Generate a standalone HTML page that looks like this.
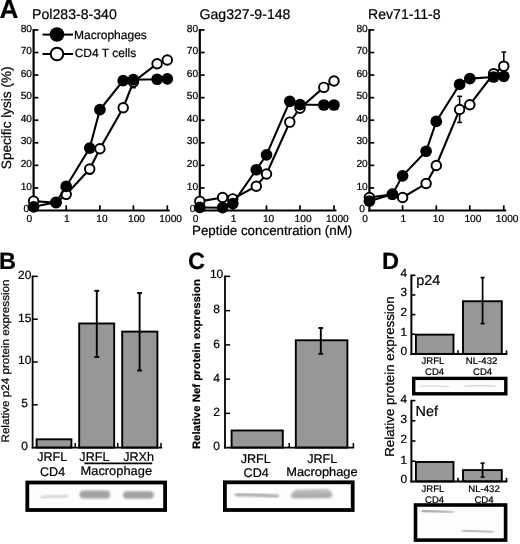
<!DOCTYPE html>
<html lang="en">
<head>
<meta charset="utf-8">
<title>Figure</title>
<style>
html,body{margin:0;padding:0;background:#fff;}
body{width:520px;height:544px;overflow:hidden;}
svg{display:block;font-family:'Liberation Sans', sans-serif;fill:#000;text-rendering:geometricPrecision;}
text{stroke:#000;stroke-width:0.22px;stroke-linejoin:round;}
</style>
</head>
<body>
<svg width="520" height="544" viewBox="0 0 520 544">
<defs>
<filter id="soft" x="0" y="0" width="100%" height="100%" filterUnits="userSpaceOnUse" color-interpolation-filters="sRGB"><feGaussianBlur stdDeviation="0.4"/></filter>
<filter id="b1" x="-20%" y="-100%" width="140%" height="300%"><feGaussianBlur stdDeviation="1.0 0.8"/></filter>
<filter id="b2" x="-20%" y="-300%" width="140%" height="700%"><feGaussianBlur stdDeviation="0.8 0.5"/></filter>
<linearGradient id="g2" gradientUnits="userSpaceOnUse" x1="422" y1="0" x2="454" y2="0"><stop offset="0" stop-color="#a8a8a8"/><stop offset="0.6" stop-color="#b4b4b4"/><stop offset="1" stop-color="#d0d0d0"/></linearGradient>
<linearGradient id="g1" x1="0" y1="0" x2="0" y2="1"><stop offset="0" stop-color="#c6c6c6"/><stop offset="1" stop-color="#a0a0a0"/></linearGradient>
</defs>
<rect x="0" y="0" width="520" height="544" fill="#fff"/>
<g filter="url(#soft)">
<rect x="-5" y="-5" width="530" height="554" fill="#fff"/>
<line x1="33.6" y1="29.040000000000003" x2="33.6" y2="211.6" stroke="#000" stroke-width="2.2" stroke-linecap="butt"/>
<line x1="32.5" y1="210.5" x2="169.70000000000002" y2="210.5" stroke="#000" stroke-width="2.2" stroke-linecap="butt"/>
<text x="26.3" y="211.9" font-size="10.2" text-anchor="middle" font-weight="normal" >0</text>
<line x1="33.6" y1="187.93" x2="38.4" y2="187.93" stroke="#000" stroke-width="1.7" stroke-linecap="butt"/>
<text x="26.3" y="189.63" font-size="10.2" text-anchor="middle" font-weight="normal" >10</text>
<line x1="33.6" y1="165.36" x2="38.4" y2="165.36" stroke="#000" stroke-width="1.7" stroke-linecap="butt"/>
<text x="26.3" y="167.06" font-size="10.2" text-anchor="middle" font-weight="normal" >20</text>
<line x1="33.6" y1="142.79" x2="38.4" y2="142.79" stroke="#000" stroke-width="1.7" stroke-linecap="butt"/>
<text x="26.3" y="144.48999999999998" font-size="10.2" text-anchor="middle" font-weight="normal" >30</text>
<line x1="33.6" y1="120.22" x2="38.4" y2="120.22" stroke="#000" stroke-width="1.7" stroke-linecap="butt"/>
<text x="26.3" y="121.92" font-size="10.2" text-anchor="middle" font-weight="normal" >40</text>
<line x1="33.6" y1="97.65" x2="38.4" y2="97.65" stroke="#000" stroke-width="1.7" stroke-linecap="butt"/>
<text x="26.3" y="99.35000000000001" font-size="10.2" text-anchor="middle" font-weight="normal" >50</text>
<line x1="33.6" y1="75.08" x2="38.4" y2="75.08" stroke="#000" stroke-width="1.7" stroke-linecap="butt"/>
<text x="26.3" y="76.78" font-size="10.2" text-anchor="middle" font-weight="normal" >60</text>
<line x1="33.6" y1="52.51" x2="38.4" y2="52.51" stroke="#000" stroke-width="1.7" stroke-linecap="butt"/>
<text x="26.3" y="54.21" font-size="10.2" text-anchor="middle" font-weight="normal" >70</text>
<line x1="33.6" y1="29.94" x2="38.4" y2="29.94" stroke="#000" stroke-width="1.7" stroke-linecap="butt"/>
<text x="26.3" y="31.64" font-size="10.2" text-anchor="middle" font-weight="normal" >80</text>
<line x1="66.2" y1="210.5" x2="66.2" y2="205.3" stroke="#000" stroke-width="1.7" stroke-linecap="butt"/>
<line x1="99.9" y1="210.5" x2="99.9" y2="205.3" stroke="#000" stroke-width="1.7" stroke-linecap="butt"/>
<line x1="133.4" y1="210.5" x2="133.4" y2="205.3" stroke="#000" stroke-width="1.7" stroke-linecap="butt"/>
<line x1="167.3" y1="210.5" x2="167.3" y2="205.3" stroke="#000" stroke-width="1.7" stroke-linecap="butt"/>
<text x="29.400000000000002" y="221.5" font-size="10.2" text-anchor="middle" font-weight="normal" >0</text>
<text x="66.9" y="221.5" font-size="10.2" text-anchor="middle" font-weight="normal" >1</text>
<text x="102.0" y="221.5" font-size="10.2" text-anchor="middle" font-weight="normal" >10</text>
<text x="136.5" y="221.5" font-size="10.2" text-anchor="middle" font-weight="normal" >100</text>
<text x="170.70000000000002" y="221.5" font-size="10.2" text-anchor="middle" font-weight="normal" >1000</text>
<text x="32.1" y="18.8" font-size="14.1" text-anchor="start" font-weight="normal" >Pol283-8-340</text>
<line x1="89.7" y1="173.94" x2="89.7" y2="169.42" stroke="#000" stroke-width="1.6" stroke-linecap="butt"/>
<line x1="87.3" y1="173.94" x2="92.10000000000001" y2="173.94" stroke="#000" stroke-width="1.5" stroke-linecap="butt"/>
<line x1="87.3" y1="169.42" x2="92.10000000000001" y2="169.42" stroke="#000" stroke-width="1.5" stroke-linecap="butt"/>
<line x1="133.4" y1="87.72" x2="133.4" y2="81.85" stroke="#000" stroke-width="1.6" stroke-linecap="butt"/>
<line x1="131.0" y1="87.72" x2="135.8" y2="87.72" stroke="#000" stroke-width="1.5" stroke-linecap="butt"/>
<line x1="131.0" y1="81.85" x2="135.8" y2="81.85" stroke="#000" stroke-width="1.5" stroke-linecap="butt"/>
<polyline fill="none" stroke="#000" stroke-width="2.1" points="33.60,201.13 56.00,202.71 66.20,194.36 89.70,169.08 99.90,148.77 123.20,107.69 133.40,81.96 157.10,63.68 167.30,60.07"/>
<circle cx="33.60" cy="201.13" r="4.75" fill="#fff" stroke="#000" stroke-width="1.95"/>
<circle cx="56.00" cy="202.71" r="4.75" fill="#fff" stroke="#000" stroke-width="1.95"/>
<circle cx="66.20" cy="194.36" r="4.75" fill="#fff" stroke="#000" stroke-width="1.95"/>
<circle cx="89.70" cy="169.08" r="4.75" fill="#fff" stroke="#000" stroke-width="1.95"/>
<circle cx="99.90" cy="148.77" r="4.75" fill="#fff" stroke="#000" stroke-width="1.95"/>
<circle cx="123.20" cy="107.69" r="4.75" fill="#fff" stroke="#000" stroke-width="1.95"/>
<circle cx="133.40" cy="81.96" r="4.75" fill="#fff" stroke="#000" stroke-width="1.95"/>
<circle cx="157.10" cy="63.68" r="4.75" fill="#fff" stroke="#000" stroke-width="1.95"/>
<circle cx="167.30" cy="60.07" r="4.75" fill="#fff" stroke="#000" stroke-width="1.95"/>
<polyline fill="none" stroke="#000" stroke-width="2.1" points="33.60,206.78 56.00,202.26 66.20,186.46 89.70,148.09 99.90,109.72 123.20,80.61 133.40,79.71 157.10,79.26 167.30,78.80"/>
<circle cx="33.60" cy="206.78" r="5.85" fill="#000"/>
<circle cx="56.00" cy="202.26" r="5.85" fill="#000"/>
<circle cx="66.20" cy="186.46" r="5.85" fill="#000"/>
<circle cx="89.70" cy="148.09" r="5.85" fill="#000"/>
<circle cx="99.90" cy="109.72" r="5.85" fill="#000"/>
<circle cx="123.20" cy="80.61" r="5.85" fill="#000"/>
<circle cx="133.40" cy="79.71" r="5.85" fill="#000"/>
<circle cx="157.10" cy="79.26" r="5.85" fill="#000"/>
<circle cx="167.30" cy="78.80" r="5.85" fill="#000"/>
<line x1="199.8" y1="29.040000000000003" x2="199.8" y2="211.6" stroke="#000" stroke-width="2.2" stroke-linecap="butt"/>
<line x1="198.70000000000002" y1="210.5" x2="336.4" y2="210.5" stroke="#000" stroke-width="2.2" stroke-linecap="butt"/>
<text x="192.5" y="211.9" font-size="10.2" text-anchor="middle" font-weight="normal" >0</text>
<line x1="199.8" y1="187.93" x2="204.60000000000002" y2="187.93" stroke="#000" stroke-width="1.7" stroke-linecap="butt"/>
<text x="192.5" y="189.63" font-size="10.2" text-anchor="middle" font-weight="normal" >10</text>
<line x1="199.8" y1="165.36" x2="204.60000000000002" y2="165.36" stroke="#000" stroke-width="1.7" stroke-linecap="butt"/>
<text x="192.5" y="167.06" font-size="10.2" text-anchor="middle" font-weight="normal" >20</text>
<line x1="199.8" y1="142.79" x2="204.60000000000002" y2="142.79" stroke="#000" stroke-width="1.7" stroke-linecap="butt"/>
<text x="192.5" y="144.48999999999998" font-size="10.2" text-anchor="middle" font-weight="normal" >30</text>
<line x1="199.8" y1="120.22" x2="204.60000000000002" y2="120.22" stroke="#000" stroke-width="1.7" stroke-linecap="butt"/>
<text x="192.5" y="121.92" font-size="10.2" text-anchor="middle" font-weight="normal" >40</text>
<line x1="199.8" y1="97.65" x2="204.60000000000002" y2="97.65" stroke="#000" stroke-width="1.7" stroke-linecap="butt"/>
<text x="192.5" y="99.35000000000001" font-size="10.2" text-anchor="middle" font-weight="normal" >50</text>
<line x1="199.8" y1="75.08" x2="204.60000000000002" y2="75.08" stroke="#000" stroke-width="1.7" stroke-linecap="butt"/>
<text x="192.5" y="76.78" font-size="10.2" text-anchor="middle" font-weight="normal" >60</text>
<line x1="199.8" y1="52.51" x2="204.60000000000002" y2="52.51" stroke="#000" stroke-width="1.7" stroke-linecap="butt"/>
<text x="192.5" y="54.21" font-size="10.2" text-anchor="middle" font-weight="normal" >70</text>
<line x1="199.8" y1="29.94" x2="204.60000000000002" y2="29.94" stroke="#000" stroke-width="1.7" stroke-linecap="butt"/>
<text x="192.5" y="31.64" font-size="10.2" text-anchor="middle" font-weight="normal" >80</text>
<line x1="232.8" y1="210.5" x2="232.8" y2="205.3" stroke="#000" stroke-width="1.7" stroke-linecap="butt"/>
<line x1="266.5" y1="210.5" x2="266.5" y2="205.3" stroke="#000" stroke-width="1.7" stroke-linecap="butt"/>
<line x1="300.0" y1="210.5" x2="300.0" y2="205.3" stroke="#000" stroke-width="1.7" stroke-linecap="butt"/>
<line x1="334.0" y1="210.5" x2="334.0" y2="205.3" stroke="#000" stroke-width="1.7" stroke-linecap="butt"/>
<text x="195.60000000000002" y="221.5" font-size="10.2" text-anchor="middle" font-weight="normal" >0</text>
<text x="233.5" y="221.5" font-size="10.2" text-anchor="middle" font-weight="normal" >1</text>
<text x="268.6" y="221.5" font-size="10.2" text-anchor="middle" font-weight="normal" >10</text>
<text x="303.1" y="221.5" font-size="10.2" text-anchor="middle" font-weight="normal" >100</text>
<text x="337.4" y="221.5" font-size="10.2" text-anchor="middle" font-weight="normal" >1000</text>
<text x="199.5" y="18.8" font-size="14.1" text-anchor="start" font-weight="normal" >Gag327-9-148</text>
<polyline fill="none" stroke="#000" stroke-width="2.1" points="199.80,201.36 222.60,197.52 232.80,198.88 256.30,186.24 266.50,174.05 289.80,122.14 300.00,108.15 323.80,87.38 334.00,81.06"/>
<circle cx="199.80" cy="201.36" r="4.75" fill="#fff" stroke="#000" stroke-width="1.95"/>
<circle cx="222.60" cy="197.52" r="4.75" fill="#fff" stroke="#000" stroke-width="1.95"/>
<circle cx="232.80" cy="198.88" r="4.75" fill="#fff" stroke="#000" stroke-width="1.95"/>
<circle cx="256.30" cy="186.24" r="4.75" fill="#fff" stroke="#000" stroke-width="1.95"/>
<circle cx="266.50" cy="174.05" r="4.75" fill="#fff" stroke="#000" stroke-width="1.95"/>
<circle cx="289.80" cy="122.14" r="4.75" fill="#fff" stroke="#000" stroke-width="1.95"/>
<circle cx="300.00" cy="108.15" r="4.75" fill="#fff" stroke="#000" stroke-width="1.95"/>
<circle cx="323.80" cy="87.38" r="4.75" fill="#fff" stroke="#000" stroke-width="1.95"/>
<circle cx="334.00" cy="81.06" r="4.75" fill="#fff" stroke="#000" stroke-width="1.95"/>
<polyline fill="none" stroke="#000" stroke-width="2.1" points="199.80,207.45 222.60,207.68 232.80,203.62 256.30,169.76 266.50,154.86 289.80,101.37 300.00,104.53 323.80,104.99 334.00,104.99"/>
<circle cx="199.80" cy="207.45" r="5.85" fill="#000"/>
<circle cx="222.60" cy="207.68" r="5.85" fill="#000"/>
<circle cx="232.80" cy="203.62" r="5.85" fill="#000"/>
<circle cx="256.30" cy="169.76" r="5.85" fill="#000"/>
<circle cx="266.50" cy="154.86" r="5.85" fill="#000"/>
<circle cx="289.80" cy="101.37" r="5.85" fill="#000"/>
<circle cx="300.00" cy="104.53" r="5.85" fill="#000"/>
<circle cx="323.80" cy="104.99" r="5.85" fill="#000"/>
<circle cx="334.00" cy="104.99" r="5.85" fill="#000"/>
<line x1="369.4" y1="29.040000000000003" x2="369.4" y2="211.6" stroke="#000" stroke-width="2.2" stroke-linecap="butt"/>
<line x1="368.29999999999995" y1="210.5" x2="506.2" y2="210.5" stroke="#000" stroke-width="2.2" stroke-linecap="butt"/>
<text x="362.09999999999997" y="211.9" font-size="10.2" text-anchor="middle" font-weight="normal" >0</text>
<line x1="369.4" y1="187.93" x2="374.2" y2="187.93" stroke="#000" stroke-width="1.7" stroke-linecap="butt"/>
<text x="362.09999999999997" y="189.63" font-size="10.2" text-anchor="middle" font-weight="normal" >10</text>
<line x1="369.4" y1="165.36" x2="374.2" y2="165.36" stroke="#000" stroke-width="1.7" stroke-linecap="butt"/>
<text x="362.09999999999997" y="167.06" font-size="10.2" text-anchor="middle" font-weight="normal" >20</text>
<line x1="369.4" y1="142.79" x2="374.2" y2="142.79" stroke="#000" stroke-width="1.7" stroke-linecap="butt"/>
<text x="362.09999999999997" y="144.48999999999998" font-size="10.2" text-anchor="middle" font-weight="normal" >30</text>
<line x1="369.4" y1="120.22" x2="374.2" y2="120.22" stroke="#000" stroke-width="1.7" stroke-linecap="butt"/>
<text x="362.09999999999997" y="121.92" font-size="10.2" text-anchor="middle" font-weight="normal" >40</text>
<line x1="369.4" y1="97.65" x2="374.2" y2="97.65" stroke="#000" stroke-width="1.7" stroke-linecap="butt"/>
<text x="362.09999999999997" y="99.35000000000001" font-size="10.2" text-anchor="middle" font-weight="normal" >50</text>
<line x1="369.4" y1="75.08" x2="374.2" y2="75.08" stroke="#000" stroke-width="1.7" stroke-linecap="butt"/>
<text x="362.09999999999997" y="76.78" font-size="10.2" text-anchor="middle" font-weight="normal" >60</text>
<line x1="369.4" y1="52.51" x2="374.2" y2="52.51" stroke="#000" stroke-width="1.7" stroke-linecap="butt"/>
<text x="362.09999999999997" y="54.21" font-size="10.2" text-anchor="middle" font-weight="normal" >70</text>
<line x1="369.4" y1="29.94" x2="374.2" y2="29.94" stroke="#000" stroke-width="1.7" stroke-linecap="butt"/>
<text x="362.09999999999997" y="31.64" font-size="10.2" text-anchor="middle" font-weight="normal" >80</text>
<line x1="402.6" y1="210.5" x2="402.6" y2="205.3" stroke="#000" stroke-width="1.7" stroke-linecap="butt"/>
<line x1="436.3" y1="210.5" x2="436.3" y2="205.3" stroke="#000" stroke-width="1.7" stroke-linecap="butt"/>
<line x1="469.8" y1="210.5" x2="469.8" y2="205.3" stroke="#000" stroke-width="1.7" stroke-linecap="butt"/>
<line x1="503.8" y1="210.5" x2="503.8" y2="205.3" stroke="#000" stroke-width="1.7" stroke-linecap="butt"/>
<text x="365.2" y="221.5" font-size="10.2" text-anchor="middle" font-weight="normal" >0</text>
<text x="403.3" y="221.5" font-size="10.2" text-anchor="middle" font-weight="normal" >1</text>
<text x="438.40000000000003" y="221.5" font-size="10.2" text-anchor="middle" font-weight="normal" >10</text>
<text x="472.90000000000003" y="221.5" font-size="10.2" text-anchor="middle" font-weight="normal" >100</text>
<text x="507.2" y="221.5" font-size="10.2" text-anchor="middle" font-weight="normal" >1000</text>
<text x="368.0" y="18.8" font-size="14.1" text-anchor="start" font-weight="normal" >Rev71-11-8</text>
<line x1="459.6" y1="122.48" x2="459.6" y2="96.3" stroke="#000" stroke-width="1.6" stroke-linecap="butt"/>
<line x1="457.20000000000005" y1="122.48" x2="462.0" y2="122.48" stroke="#000" stroke-width="1.5" stroke-linecap="butt"/>
<line x1="457.20000000000005" y1="96.3" x2="462.0" y2="96.3" stroke="#000" stroke-width="1.5" stroke-linecap="butt"/>
<line x1="503.8" y1="66.5" x2="503.8" y2="52.06" stroke="#000" stroke-width="1.6" stroke-linecap="butt"/>
<line x1="501.40000000000003" y1="66.5" x2="506.2" y2="66.5" stroke="#000" stroke-width="1.5" stroke-linecap="butt"/>
<line x1="501.40000000000003" y1="52.06" x2="506.2" y2="52.06" stroke="#000" stroke-width="1.5" stroke-linecap="butt"/>
<polyline fill="none" stroke="#000" stroke-width="2.1" points="369.40,197.52 392.40,194.36 402.60,197.52 426.10,183.53 436.30,165.47 459.60,109.50 469.80,104.76 493.60,73.84 503.80,66.16"/>
<circle cx="369.40" cy="197.52" r="4.75" fill="#fff" stroke="#000" stroke-width="1.95"/>
<circle cx="392.40" cy="194.36" r="4.75" fill="#fff" stroke="#000" stroke-width="1.95"/>
<circle cx="402.60" cy="197.52" r="4.75" fill="#fff" stroke="#000" stroke-width="1.95"/>
<circle cx="426.10" cy="183.53" r="4.75" fill="#fff" stroke="#000" stroke-width="1.95"/>
<circle cx="436.30" cy="165.47" r="4.75" fill="#fff" stroke="#000" stroke-width="1.95"/>
<circle cx="459.60" cy="109.50" r="4.75" fill="#fff" stroke="#000" stroke-width="1.95"/>
<circle cx="469.80" cy="104.76" r="4.75" fill="#fff" stroke="#000" stroke-width="1.95"/>
<circle cx="493.60" cy="73.84" r="4.75" fill="#fff" stroke="#000" stroke-width="1.95"/>
<circle cx="503.80" cy="66.16" r="4.75" fill="#fff" stroke="#000" stroke-width="1.95"/>
<polyline fill="none" stroke="#000" stroke-width="2.1" points="369.40,201.13 392.40,194.14 402.60,175.86 426.10,151.25 436.30,121.46 459.60,84.45 469.80,78.58 493.60,77.00 503.80,76.32"/>
<circle cx="369.40" cy="201.13" r="5.85" fill="#000"/>
<circle cx="392.40" cy="194.14" r="5.85" fill="#000"/>
<circle cx="402.60" cy="175.86" r="5.85" fill="#000"/>
<circle cx="426.10" cy="151.25" r="5.85" fill="#000"/>
<circle cx="436.30" cy="121.46" r="5.85" fill="#000"/>
<circle cx="459.60" cy="84.45" r="5.85" fill="#000"/>
<circle cx="469.80" cy="78.58" r="5.85" fill="#000"/>
<circle cx="493.60" cy="77.00" r="5.85" fill="#000"/>
<circle cx="503.80" cy="76.32" r="5.85" fill="#000"/>
<line x1="42.5" y1="34.6" x2="73" y2="34.6" stroke="#000" stroke-width="2.0" stroke-linecap="butt"/>
<circle cx="57.0" cy="34.5" r="7.3" fill="#000"/>
<text x="74.1" y="38.6" font-size="12.0" text-anchor="start" font-weight="normal" >Macrophages</text>
<line x1="42.5" y1="54.0" x2="73" y2="54.0" stroke="#000" stroke-width="2.0" stroke-linecap="butt"/>
<circle cx="57.0" cy="54.0" r="6.3" fill="#fff" stroke="#000" stroke-width="1.9"/>
<text x="74.7" y="57.0" font-size="12.0" text-anchor="start" font-weight="normal" >CD4 T cells</text>
<text transform="translate(10.9,117.8) rotate(-90)" font-size="13.6" text-anchor="middle">Specific lysis (%)</text>
<text x="272.1" y="235.0" font-size="13.35" text-anchor="middle" font-weight="normal" >Peptide concentration (nM)</text>
<text x="-0.4" y="17.8" font-size="26.2" text-anchor="start" font-weight="bold" >A</text>
<text x="-0.9" y="268.8" font-size="23.5" text-anchor="start" font-weight="bold" >B</text>
<text x="188.0" y="268.8" font-size="23.5" text-anchor="start" font-weight="bold" >C</text>
<text x="382.0" y="268.5" font-size="23.5" text-anchor="start" font-weight="bold" >D</text>
<rect x="36.6" y="439.3" width="34.8" height="8.3" fill="#979797" stroke="#000" stroke-width="1.9"/>
<rect x="79.2" y="323.48" width="35.0" height="124.12" fill="#979797" stroke="#000" stroke-width="1.9"/>
<rect x="122.2" y="331.61" width="35.2" height="115.99" fill="#979797" stroke="#000" stroke-width="1.9"/>
<line x1="96.8" y1="290.8" x2="96.8" y2="357.0" stroke="#000" stroke-width="1.9" stroke-linecap="butt"/>
<line x1="94.39999999999999" y1="290.8" x2="99.2" y2="290.8" stroke="#000" stroke-width="1.9" stroke-linecap="butt"/>
<line x1="94.39999999999999" y1="357.0" x2="99.2" y2="357.0" stroke="#000" stroke-width="1.9" stroke-linecap="butt"/>
<line x1="139.6" y1="293.0" x2="139.6" y2="370.5" stroke="#000" stroke-width="1.9" stroke-linecap="butt"/>
<line x1="137.2" y1="293.0" x2="142.0" y2="293.0" stroke="#000" stroke-width="1.9" stroke-linecap="butt"/>
<line x1="137.2" y1="370.5" x2="142.0" y2="370.5" stroke="#000" stroke-width="1.9" stroke-linecap="butt"/>
<line x1="32.6" y1="275.59999999999997" x2="32.6" y2="448.5" stroke="#000" stroke-width="1.8" stroke-linecap="butt"/>
<line x1="31.700000000000003" y1="447.6" x2="162.2" y2="447.6" stroke="#000" stroke-width="1.8" stroke-linecap="butt"/>
<line x1="32.6" y1="404.8" x2="37.800000000000004" y2="404.8" stroke="#000" stroke-width="1.5" stroke-linecap="butt"/>
<line x1="32.6" y1="362.0" x2="37.800000000000004" y2="362.0" stroke="#000" stroke-width="1.5" stroke-linecap="butt"/>
<line x1="32.6" y1="319.2" x2="37.800000000000004" y2="319.2" stroke="#000" stroke-width="1.5" stroke-linecap="butt"/>
<line x1="32.6" y1="276.4" x2="37.800000000000004" y2="276.4" stroke="#000" stroke-width="1.5" stroke-linecap="butt"/>
<text x="24.7" y="449.90000000000003" font-size="12.0" text-anchor="middle" font-weight="normal" >0</text>
<text x="24.7" y="407.1" font-size="12.0" text-anchor="middle" font-weight="normal" >5</text>
<text x="24.7" y="364.3" font-size="12.0" text-anchor="middle" font-weight="normal" >10</text>
<text x="24.7" y="321.5" font-size="12.0" text-anchor="middle" font-weight="normal" >15</text>
<text x="24.7" y="278.7" font-size="12.0" text-anchor="middle" font-weight="normal" >20</text>
<line x1="75.2" y1="447.6" x2="75.2" y2="443.0" stroke="#000" stroke-width="1.5" stroke-linecap="butt"/>
<line x1="117.8" y1="447.6" x2="117.8" y2="443.0" stroke="#000" stroke-width="1.5" stroke-linecap="butt"/>
<line x1="161.0" y1="447.6" x2="161.0" y2="443.0" stroke="#000" stroke-width="1.5" stroke-linecap="butt"/>
<text x="52.2" y="461.4" font-size="12.6" text-anchor="middle" font-weight="normal" >JRFL</text>
<text x="52.6" y="476.4" font-size="12.6" text-anchor="middle" font-weight="normal" >CD4</text>
<text x="94.4" y="461.4" font-size="12.6" text-anchor="middle" font-weight="normal" >JRFL</text>
<text x="138.6" y="461.4" font-size="12.6" text-anchor="middle" font-weight="normal" >JRXh</text>
<line x1="84.4" y1="463.4" x2="152.2" y2="463.4" stroke="#000" stroke-width="1.8" stroke-linecap="butt"/>
<text x="116.3" y="474.7" font-size="12.5" text-anchor="middle" font-weight="normal" textLength="71.5" lengthAdjust="spacingAndGlyphs">Macrophage</text>
<text transform="translate(9.4,361) rotate(-90)" font-size="10.9" text-anchor="middle" textLength="163" lengthAdjust="spacingAndGlyphs">Relative p24 protein expression</text>
<rect x="27.299999999999997" y="482.5" width="137.79999999999998" height="27.499999999999954" fill="#fdfdfd" stroke="#000" stroke-width="3.8"/>
<path d="M41.5 497.4 Q50 496.2 56 496.6 T67 496.0" fill="none" stroke="#c6c6c6" stroke-width="2.0" stroke-linecap="round" filter="url(#b1)"/>
<rect x="79.6" y="490.6" width="30.6" height="7.8" rx="3.9" fill="#a2a2a2" filter="url(#b1)"/>
<rect x="123.0" y="491.2" width="30.8" height="7.6" rx="3.8" fill="#a2a2a2" filter="url(#b1)"/>
<rect x="231.6" y="430.48" width="51.2" height="17.12" fill="#979797" stroke="#000" stroke-width="1.9"/>
<rect x="295.8" y="340.26" width="51.6" height="107.34" fill="#979797" stroke="#000" stroke-width="1.9"/>
<line x1="320.8" y1="328.0" x2="320.8" y2="353.8" stroke="#000" stroke-width="1.9" stroke-linecap="butt"/>
<line x1="318.40000000000003" y1="328.0" x2="323.2" y2="328.0" stroke="#000" stroke-width="1.9" stroke-linecap="butt"/>
<line x1="318.40000000000003" y1="353.8" x2="323.2" y2="353.8" stroke="#000" stroke-width="1.9" stroke-linecap="butt"/>
<line x1="225.0" y1="275.59999999999997" x2="225.0" y2="448.5" stroke="#000" stroke-width="1.8" stroke-linecap="butt"/>
<line x1="224.1" y1="447.6" x2="354.2" y2="447.6" stroke="#000" stroke-width="1.8" stroke-linecap="butt"/>
<line x1="225.0" y1="413.36" x2="230.2" y2="413.36" stroke="#000" stroke-width="1.5" stroke-linecap="butt"/>
<line x1="225.0" y1="379.12" x2="230.2" y2="379.12" stroke="#000" stroke-width="1.5" stroke-linecap="butt"/>
<line x1="225.0" y1="344.88" x2="230.2" y2="344.88" stroke="#000" stroke-width="1.5" stroke-linecap="butt"/>
<line x1="225.0" y1="310.64" x2="230.2" y2="310.64" stroke="#000" stroke-width="1.5" stroke-linecap="butt"/>
<line x1="225.0" y1="276.4" x2="230.2" y2="276.4" stroke="#000" stroke-width="1.5" stroke-linecap="butt"/>
<text x="216.6" y="450.40000000000003" font-size="12.0" text-anchor="middle" font-weight="normal" >0</text>
<text x="216.6" y="416.16" font-size="12.0" text-anchor="middle" font-weight="normal" >2</text>
<text x="216.6" y="381.92" font-size="12.0" text-anchor="middle" font-weight="normal" >4</text>
<text x="216.6" y="347.68" font-size="12.0" text-anchor="middle" font-weight="normal" >6</text>
<text x="216.6" y="313.44" font-size="12.0" text-anchor="middle" font-weight="normal" >8</text>
<text x="216.6" y="278.2" font-size="12.0" text-anchor="middle" font-weight="normal" >10</text>
<line x1="289.2" y1="447.6" x2="289.2" y2="443.0" stroke="#000" stroke-width="1.5" stroke-linecap="butt"/>
<line x1="353.4" y1="447.6" x2="353.4" y2="443.0" stroke="#000" stroke-width="1.5" stroke-linecap="butt"/>
<text x="255.7" y="463.2" font-size="12.6" text-anchor="middle" font-weight="normal" >JRFL</text>
<text x="256.2" y="477.2" font-size="12.6" text-anchor="middle" font-weight="normal" >CD4</text>
<text x="322.2" y="463.2" font-size="12.6" text-anchor="middle" font-weight="normal" >JRFL</text>
<text x="321.9" y="476.3" font-size="12.5" text-anchor="middle" font-weight="normal" textLength="71.3" lengthAdjust="spacingAndGlyphs">Macrophage</text>
<text transform="translate(199.8,364.1) rotate(-90)" font-size="10.7" font-weight="bold" text-anchor="middle" textLength="170" lengthAdjust="spacingAndGlyphs">Relative Nef protein expression</text>
<rect x="224.9" y="482.29999999999995" width="127.80000000000003" height="27.7" fill="#fdfdfd" stroke="#000" stroke-width="3.8"/>
<path d="M236.5 494.6 Q256 495.0 277.5 496.2" fill="none" stroke="#a8a8a8" stroke-width="3.2" stroke-linecap="round" filter="url(#b1)"/>
<path d="M291 497.2 Q290.5 493 296 489.5 L327 488.8 Q332 491 332.5 495.5 Q332 498 326 498 L295 498.3 Z" fill="url(#g1)" filter="url(#b1)"/>
<rect x="415.9" y="334.64" width="37.6" height="19.26" fill="#979797" stroke="#000" stroke-width="1.9"/>
<rect x="463.0" y="301.24" width="38.8" height="52.66" fill="#979797" stroke="#000" stroke-width="1.9"/>
<line x1="482.6" y1="277.6" x2="482.6" y2="323.6" stroke="#000" stroke-width="1.7" stroke-linecap="butt"/>
<line x1="480.6" y1="277.6" x2="484.6" y2="277.6" stroke="#000" stroke-width="1.7" stroke-linecap="butt"/>
<line x1="480.6" y1="323.6" x2="484.6" y2="323.6" stroke="#000" stroke-width="1.7" stroke-linecap="butt"/>
<line x1="411.4" y1="274.5" x2="411.4" y2="354.9" stroke="#000" stroke-width="2.0" stroke-linecap="butt"/>
<line x1="410.4" y1="353.9" x2="507.4" y2="353.9" stroke="#000" stroke-width="2.0" stroke-linecap="butt"/>
<line x1="411.4" y1="334.25" x2="415.4" y2="334.25" stroke="#000" stroke-width="1.6" stroke-linecap="butt"/>
<line x1="411.4" y1="314.6" x2="415.4" y2="314.6" stroke="#000" stroke-width="1.6" stroke-linecap="butt"/>
<line x1="411.4" y1="294.95" x2="415.4" y2="294.95" stroke="#000" stroke-width="1.6" stroke-linecap="butt"/>
<line x1="411.4" y1="275.3" x2="415.4" y2="275.3" stroke="#000" stroke-width="1.6" stroke-linecap="butt"/>
<text x="407.09999999999997" y="355.29999999999995" font-size="11.8" text-anchor="end" font-weight="normal" >0</text>
<text x="407.09999999999997" y="335.75" font-size="11.8" text-anchor="end" font-weight="normal" >1</text>
<text x="407.09999999999997" y="316.1" font-size="11.8" text-anchor="end" font-weight="normal" >2</text>
<text x="407.09999999999997" y="296.45" font-size="11.8" text-anchor="end" font-weight="normal" >3</text>
<text x="407.09999999999997" y="276.8" font-size="11.8" text-anchor="end" font-weight="normal" >4</text>
<line x1="458.0" y1="353.9" x2="458.0" y2="350.29999999999995" stroke="#000" stroke-width="1.6" stroke-linecap="butt"/>
<line x1="506.5" y1="353.9" x2="506.5" y2="350.29999999999995" stroke="#000" stroke-width="1.6" stroke-linecap="butt"/>
<text x="416.2" y="285.4" font-size="14.4" text-anchor="start" font-weight="normal" >p24</text>
<text x="433.0" y="364.09999999999997" font-size="9.6" text-anchor="middle" font-weight="normal" >JRFL</text>
<text x="434.6" y="375.09999999999997" font-size="9.6" text-anchor="middle" font-weight="normal" >CD4</text>
<text x="481.6" y="364.09999999999997" font-size="9.6" text-anchor="middle" font-weight="normal" >NL-432</text>
<text x="482.6" y="375.09999999999997" font-size="9.6" text-anchor="middle" font-weight="normal" >CD4</text>
<rect x="415.9" y="462.01" width="37.6" height="19.39" fill="#979797" stroke="#000" stroke-width="1.9"/>
<rect x="463.0" y="470.09" width="38.8" height="11.31" fill="#979797" stroke="#000" stroke-width="1.9"/>
<line x1="482.6" y1="463.2" x2="482.6" y2="477.0" stroke="#000" stroke-width="1.7" stroke-linecap="butt"/>
<line x1="480.6" y1="463.2" x2="484.6" y2="463.2" stroke="#000" stroke-width="1.7" stroke-linecap="butt"/>
<line x1="480.6" y1="477.0" x2="484.6" y2="477.0" stroke="#000" stroke-width="1.7" stroke-linecap="butt"/>
<line x1="411.4" y1="399.8" x2="411.4" y2="482.4" stroke="#000" stroke-width="2.0" stroke-linecap="butt"/>
<line x1="410.4" y1="481.4" x2="507.4" y2="481.4" stroke="#000" stroke-width="2.0" stroke-linecap="butt"/>
<line x1="411.4" y1="461.2" x2="415.4" y2="461.2" stroke="#000" stroke-width="1.6" stroke-linecap="butt"/>
<line x1="411.4" y1="441.0" x2="415.4" y2="441.0" stroke="#000" stroke-width="1.6" stroke-linecap="butt"/>
<line x1="411.4" y1="420.8" x2="415.4" y2="420.8" stroke="#000" stroke-width="1.6" stroke-linecap="butt"/>
<line x1="411.4" y1="400.6" x2="415.4" y2="400.6" stroke="#000" stroke-width="1.6" stroke-linecap="butt"/>
<text x="407.09999999999997" y="482.79999999999995" font-size="11.8" text-anchor="end" font-weight="normal" >0</text>
<text x="407.09999999999997" y="463.5" font-size="11.8" text-anchor="end" font-weight="normal" >1</text>
<text x="407.09999999999997" y="443.3" font-size="11.8" text-anchor="end" font-weight="normal" >2</text>
<text x="407.09999999999997" y="423.1" font-size="11.8" text-anchor="end" font-weight="normal" >3</text>
<text x="407.09999999999997" y="402.90000000000003" font-size="11.8" text-anchor="end" font-weight="normal" >4</text>
<line x1="458.0" y1="481.4" x2="458.0" y2="477.79999999999995" stroke="#000" stroke-width="1.6" stroke-linecap="butt"/>
<line x1="506.5" y1="481.4" x2="506.5" y2="477.79999999999995" stroke="#000" stroke-width="1.6" stroke-linecap="butt"/>
<text x="415.5" y="415.5" font-size="14.4" text-anchor="start" font-weight="normal" >Nef</text>
<text x="433.0" y="491.59999999999997" font-size="9.6" text-anchor="middle" font-weight="normal" >JRFL</text>
<text x="434.6" y="502.59999999999997" font-size="9.6" text-anchor="middle" font-weight="normal" >CD4</text>
<text x="484.0" y="491.59999999999997" font-size="9.6" text-anchor="middle" font-weight="normal" >NL-432</text>
<text x="484.0" y="502.59999999999997" font-size="9.6" text-anchor="middle" font-weight="normal" >CD4</text>
<text transform="translate(393.9,376.6) rotate(-90)" font-size="13.0" text-anchor="middle" textLength="160.3" lengthAdjust="spacingAndGlyphs">Relative protein expression</text>
<rect x="413.7" y="378.4" width="92.1" height="15.400000000000011" fill="#fdfdfd" stroke="#000" stroke-width="3.4"/>
<path d="M420 386.4 Q434 385.2 449 386.6" fill="none" stroke="#d8d8d8" stroke-width="1.3" filter="url(#b2)"/>
<path d="M464 386.2 Q480 384.8 496 386.2" fill="none" stroke="#d8d8d8" stroke-width="1.3" filter="url(#b2)"/>
<rect x="415.5" y="505.0" width="90.1" height="35.09999999999999" fill="#fdfdfd" stroke="#000" stroke-width="3.6"/>
<path d="M422.5 511.2 L453.0 511.8" fill="none" stroke="url(#g2)" stroke-width="2.2" stroke-linecap="round" filter="url(#b2)"/>
<path d="M462.8 530.7 L492.5 531.8" fill="none" stroke="#bcbcbc" stroke-width="2.0" stroke-linecap="round" filter="url(#b2)"/>
</g>
</svg>
</body>
</html>
